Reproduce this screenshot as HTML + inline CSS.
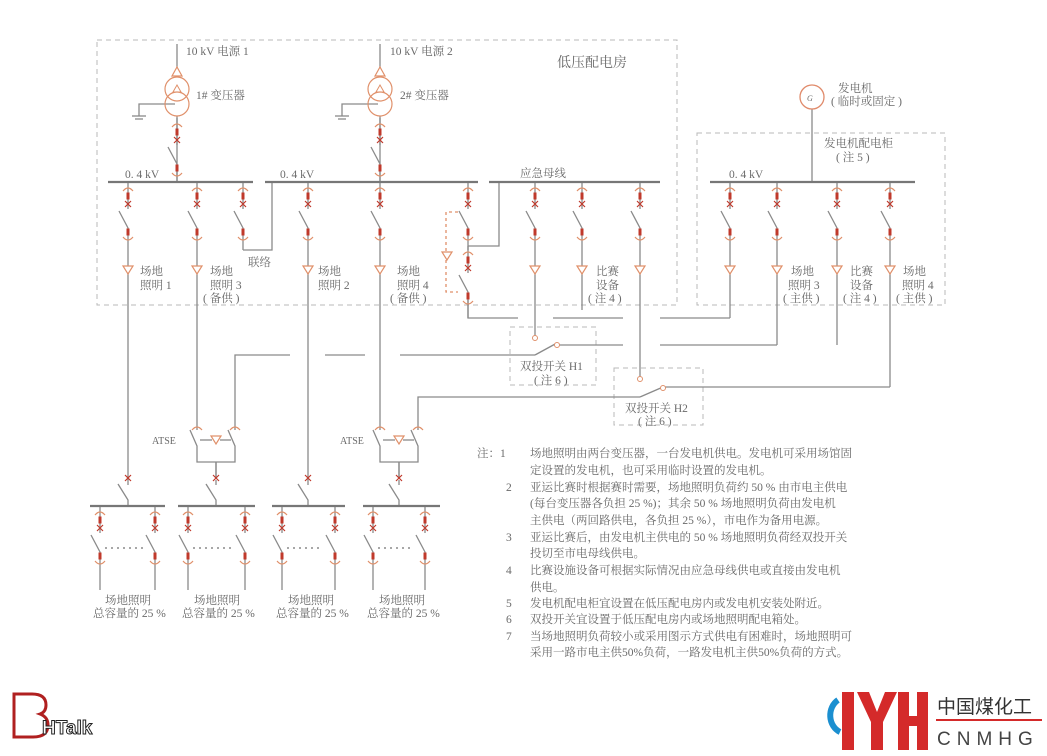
<!DOCTYPE html>
<html><head><meta charset="utf-8">
<style>
html,body{margin:0;padding:0;background:#fff;}
svg{display:block;}
text{font-family:"Liberation Serif","Noto Serif CJK SC","Noto Sans CJK SC",serif;fill:#6a6a6a;}
.n{font-size:11.5px;}
</style></head>
<body>
<svg id="s" width="1047" height="756" viewBox="0 0 1047 756" xmlns="http://www.w3.org/2000/svg">
<g fill="none" stroke="#b8b8b8" stroke-width="1" stroke-dasharray="5,4">
<rect x="97" y="40" width="580" height="265"/>
<rect x="697" y="133" width="248" height="172"/>
<rect x="510" y="327" width="86" height="58"/>
<rect x="614" y="368" width="89" height="57"/>
</g>
<g id="L" stroke="#8a8a8a" stroke-width="1.3" fill="none"></g>
<g id="R"></g>
<g stroke="#777" stroke-width="2.2">
<line x1="108" y1="182" x2="253" y2="182"/>
<line x1="265" y1="182" x2="478" y2="182"/>
<line x1="489" y1="182" x2="660" y2="182"/>
<line x1="710" y1="182" x2="915" y2="182"/>
<line x1="90" y1="506" x2="165" y2="506"/>
<line x1="178" y1="506" x2="255" y2="506"/>
<line x1="272" y1="506" x2="345" y2="506"/>
<line x1="363" y1="506" x2="440" y2="506"/>
</g>
<circle cx="812" cy="97" r="12" fill="#fff" stroke="#e08a6a" stroke-width="1.3"/>
<text x="807" y="101" style="font-size:8px;font-style:italic">G</text>

<text x="557" y="67" style="font-size:14px">低压配电房</text>
<text x="186" y="55" class="n">10 kV 电源 1</text>
<text x="390" y="55" class="n">10 kV 电源 2</text>
<text x="196" y="99" class="n">1# 变压器</text>
<text x="400" y="99" class="n">2# 变压器</text>
<text x="125" y="178" class="n">0. 4 kV</text>
<text x="280" y="178" class="n">0. 4 kV</text>
<text x="520" y="177" class="n">应急母线</text>
<text x="729" y="178" class="n">0. 4 kV</text>
<text x="838" y="92" class="n">发电机</text>
<text x="831" y="105" class="n">( 临时或固定 )</text>
<text x="824" y="147" class="n">发电机配电柜</text>
<text x="836" y="161" class="n">( 注 5 )</text>
<text x="248" y="266" class="n">联络</text>
<text x="140" y="275" class="n">场地</text><text x="140" y="289" class="n">照明 1</text>
<text x="210" y="275" class="n">场地</text><text x="210" y="289" class="n">照明 3</text><text x="203" y="302" class="n">( 备供 )</text>
<text x="318" y="275" class="n">场地</text><text x="318" y="289" class="n">照明 2</text>
<text x="397" y="275" class="n">场地</text><text x="397" y="289" class="n">照明 4</text><text x="390" y="302" class="n">( 备供 )</text>
<text x="596" y="275" class="n">比赛</text><text x="596" y="289" class="n">设备</text><text x="588" y="302" class="n">( 注 4 )</text>
<text x="791" y="275" class="n">场地</text><text x="788" y="289" class="n">照明 3</text><text x="783" y="302" class="n">( 主供 )</text>
<text x="850" y="275" class="n">比赛</text><text x="850" y="289" class="n">设备</text><text x="843" y="302" class="n">( 注 4 )</text>
<text x="903" y="275" class="n">场地</text><text x="902" y="289" class="n">照明 4</text><text x="896" y="302" class="n">( 主供 )</text>
<text x="520" y="370" class="n">双投开关 H1</text><text x="534" y="384" class="n">( 注 6 )</text>
<text x="625" y="412" class="n">双投开关 H2</text><text x="638" y="425" class="n">( 注 6 )</text>
<text x="152" y="444" style="font-size:10px">ATSE</text>
<text x="340" y="444" style="font-size:10px">ATSE</text>
<g class="n">
<text x="105" y="604" class="n">场地照明</text><text x="93" y="617" class="n">总容量的 25 %</text>
<text x="194" y="604" class="n">场地照明</text><text x="182" y="617" class="n">总容量的 25 %</text>
<text x="288" y="604" class="n">场地照明</text><text x="276" y="617" class="n">总容量的 25 %</text>
<text x="379" y="604" class="n">场地照明</text><text x="367" y="617" class="n">总容量的 25 %</text>
</g>
<g>
<text x="477" y="457" class="n">注：1</text>
<text x="530" y="457" class="n">场地照明由两台变压器，一台发电机供电。发电机可采用场馆固</text>
<text x="530" y="474" class="n">定设置的发电机，也可采用临时设置的发电机。</text>
<text x="506" y="491" class="n">2</text>
<text x="530" y="491" class="n">亚运比赛时根据赛时需要，场地照明负荷约 50 % 由市电主供电</text>
<text x="530" y="507" class="n">(每台变压器各负担 25 %)；其余 50 % 场地照明负荷由发电机</text>
<text x="530" y="524" class="n">主供电（两回路供电，各负担 25 %），市电作为备用电源。</text>
<text x="506" y="541" class="n">3</text>
<text x="530" y="541" class="n">亚运比赛后，由发电机主供电的 50 % 场地照明负荷经双投开关</text>
<text x="530" y="557" class="n">投切至市电母线供电。</text>
<text x="506" y="574" class="n">4</text>
<text x="530" y="574" class="n">比赛设施设备可根据实际情况由应急母线供电或直接由发电机</text>
<text x="530" y="591" class="n">供电。</text>
<text x="506" y="607" class="n">5</text>
<text x="530" y="607" class="n">发电机配电柜宜设置在低压配电房内或发电机安装处附近。</text>
<text x="506" y="623" class="n">6</text>
<text x="530" y="623" class="n">双投开关宜设置于低压配电房内或场地照明配电箱处。</text>
<text x="506" y="640" class="n">7</text>
<text x="530" y="640" class="n">当场地照明负荷较小或采用图示方式供电有困难时，场地照明可</text>
<text x="530" y="656" class="n">采用一路市电主供50%负荷，一路发电机主供50%负荷的方式。</text>
</g>
<g>
<path d="M14 694 h18 q14 0 14 11 q0 7 -6 9 q8 3 8 11 q0 12 -15 12 h-19 z" fill="none" stroke="#b02020" stroke-width="3"/>
<text x="42" y="734" style="font-family:'Liberation Sans',sans-serif;font-size:19px;font-weight:bold;fill:#fff;stroke:#222;stroke-width:1">HTalk</text>
<path d="M838 700 a16 18 0 0 0 2 32" fill="none" stroke="#1b8fd0" stroke-width="6"/>
<rect x="842" y="692" width="12" height="58" fill="#d42a2a"/>
<path d="M857 692 h12 l8 20 l8 -20 h12 l-14 30 v28 h-12 v-28 z" fill="#d42a2a"/>
<rect x="898" y="692" width="11" height="58" fill="#d42a2a"/>
<rect x="917" y="692" width="11" height="58" fill="#d42a2a"/>
<rect x="898" y="716" width="30" height="10" fill="#d42a2a"/>
<text x="937" y="713" style="font-family:'Noto Sans CJK SC',sans-serif;font-size:19px;fill:#333">中国煤化工</text>
<rect x="936" y="719" width="106" height="2" fill="#d42a2a"/>
<text x="937" y="745" style="font-family:'Liberation Sans',sans-serif;font-size:19px;fill:#444;letter-spacing:6px">CNMHG</text>
</g>
</svg>
<script>
var NS="http://www.w3.org/2000/svg",L=document.getElementById('L'),R=document.getElementById('R');
function el(p,t,a){var e=document.createElementNS(NS,t);for(var k in a)e.setAttribute(k,a[k]);p.appendChild(e);return e;}
function ln(pts){el(L,'polyline',{points:pts});}
function red(x,y){el(R,'rect',{x:x-1.5,y:y-3.5,width:3,height:7,fill:'#c0392b'});}
function arc(x,y,up){el(R,'path',{d:up?('M'+(x-5)+' '+(y+2)+' q5 -6 10 0'):('M'+(x-5)+' '+(y-2)+' q5 6 10 0'),fill:'none',stroke:'#e0906a','stroke-width':1.2});}
function xm(x,y){el(R,'path',{d:'M'+(x-3)+' '+(y-3)+' l6 6 M'+(x+3)+' '+(y-3)+' l-6 6',stroke:'#c0392b','stroke-width':1.2});}
function tri(x,y){el(R,'path',{d:'M'+(x-5)+' '+(y-4)+' h10 l-5 8 z',fill:'#fff',stroke:'#e0906a','stroke-width':1.2});}
function chain(x,y0,end,tr){
  ln(x+','+y0+' '+x+','+(y0+27));
  ln((x-9)+','+(y0+29)+' '+x+','+(y0+46)+' '+x+','+end);
  arc(x,y0+7,true);red(x,y0+14);xm(x,y0+22);red(x,y0+50);arc(x,y0+57,false);
  if(tr)tri(x,tr);
}
[177,380].forEach(function(x){
  ln(x+',44 '+x+',77');
  el(R,'path',{d:'M'+(x-5)+' 76 h10 l-5 -9 z',fill:'#fff',stroke:'#e0906a','stroke-width':1.2});
  el(R,'circle',{cx:x,cy:89,r:12,fill:'none',stroke:'#e0906a','stroke-width':1.2});
  el(R,'circle',{cx:x,cy:104,r:12,fill:'none',stroke:'#e0906a','stroke-width':1.2});
  el(R,'path',{d:'M'+(x-4)+' 92 h8 l-4 -7 z',fill:'none',stroke:'#e0906a','stroke-width':1});
  ln((x-2)+',104 '+(x-38)+',104 '+(x-38)+',116');
  ln((x-45)+',116 '+(x-31)+',116');ln((x-42)+',119 '+(x-34)+',119');
  ln(x+',116 '+x+',182');
  chain(x,118,182);
});
ln('812,109 812,182');
[[128,480],[197,425],[243,250],[308,480],[380,425]].forEach(function(b){chain(b[0],182,b[1],b[0]==243?0:270);});
ln('243,250 272,250 272,182');
chain(468,182,250);ln('499,182 499,246 468,246');
chain(468,246,318);ln('468,300 468,318 518,318');ln('553,318 623,318');ln('660,318 730,318');
el(L,'path',{d:'M458 212 h-12 v80 h12','stroke-dasharray':'3,3','stroke':'#e0906a'});tri(447,256);
chain(535,182,336,270);chain(582,182,310,270);chain(640,182,377,270);
chain(730,182,318,270);chain(777,182,345,270);chain(837,182,345,270);chain(890,182,387,270);
ln('777,345 660,345');ln('623,345 557,345');ln('890,387 663,387');
el(R,'circle',{cx:535,cy:338,r:2.5,fill:'#fff',stroke:'#e0906a'});
ln('535,355 557,343');el(R,'circle',{cx:557,cy:345,r:2.5,fill:'#fff',stroke:'#e0906a'});
ln('535,355 400,355');ln('365,355 325,355');ln('290,355 235,355 235,425');
el(R,'circle',{cx:640,cy:379,r:2.5,fill:'#fff',stroke:'#e0906a'});
ln('640,397 663,387');el(R,'circle',{cx:663,cy:388,r:2.5,fill:'#fff',stroke:'#e0906a'});
ln('640,397 418,397 418,425');
[[197,235],[380,418]].forEach(function(a){
  var l=a[0],r=a[1],m=(l+r)/2;
  arc(l,428,true);arc(r,428,true);
  ln((l-7)+',430 '+l+',446 '+l+',462 '+r+',462 '+r+',446 '+(r-7)+',430');
  ln(l+',425 '+l+',430');ln(r+',425 '+r+',430');
  ln((l+3)+',440 '+(m-4)+',440');ln((m+4)+',440 '+(r-4)+',440');tri(m,440);
  ln(m+',462 '+m+',478');
});
[[128],[216],[308],[399]].forEach(function(f){var x=f[0];xm(x,478);ln(x+',480 '+x+',485');ln((x-10)+',484 '+x+',500 '+x+',506');});
ln('216,462 216,478');ln('399,462 399,478');
[[100,155],[188,245],[282,335],[373,425]].forEach(function(p){
  chain(p[0],506,590);chain(p[1],506,590);
  el(L,'line',{x1:p[0]+5,y1:548,x2:p[1]-12,y2:548,'stroke-dasharray':'2,4','stroke-width':1.6});
});
</script>
</body></html>
